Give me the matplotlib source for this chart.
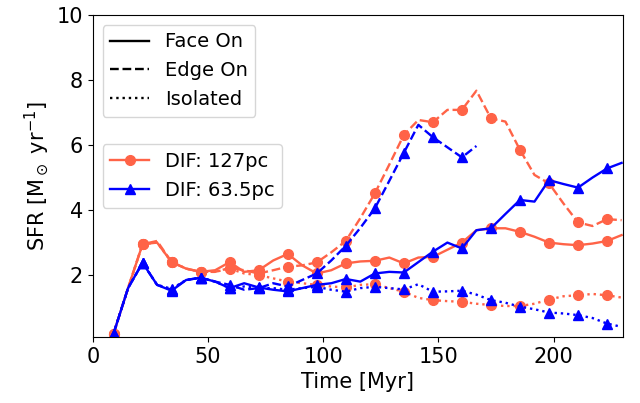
import matplotlib
matplotlib.use('Agg')
import matplotlib.pyplot as plt
from matplotlib.lines import Line2D

# snapshot times [Myr]
time = [9.0, 15.3, 21.6, 27.9, 34.2, 40.5, 46.8, 53.1, 59.4, 65.7,
        72.0, 78.3, 84.6, 90.9, 97.2, 103.5, 109.8, 116.1, 122.4, 128.7,
        135.0, 141.3, 147.6, 153.9, 160.2, 166.5, 172.8, 179.1, 185.4, 191.7,
        198.0, 204.3, 210.6, 216.9, 223.2, 229.5]

# DIF: 127pc
sfr127_face = [0.2, 1.6, 2.95, 3.0, 2.4, 2.2, 2.1, 2.15, 2.4, 2.1,
               2.15, 2.45, 2.65, 2.3, 2.05, 2.15, 2.36, 2.42, 2.44, 2.54,
               2.36, 2.54, 2.56, 2.78, 3.0, 3.38, 3.44, 3.44, 3.33, 3.18,
               3.0, 2.95, 2.92, 2.97, 3.05, 3.23]
sfr127_edge = [0.2, 1.6, 2.95, 3.05, 2.4, 2.2, 2.1, 2.1, 2.22, 2.15,
               2.05, 2.15, 2.26, 2.3, 2.39, 2.7, 3.05, 3.75, 4.51, 5.4,
               6.31, 6.77, 6.70, 7.08, 7.08, 7.67, 6.82, 6.72, 5.85, 5.08,
               4.82, 4.2, 3.62, 3.51, 3.72, 3.69]
sfr127_iso = [0.2, 1.6, 2.95, 3.0, 2.4, 2.2, 2.1, 2.1, 2.2, 2.05,
              2.0, 1.9, 1.8, 1.75, 1.7, 1.65, 1.62, 1.7, 1.72, 1.6,
              1.49, 1.3, 1.23, 1.2, 1.18, 1.12, 1.08, 1.05, 1.05, 1.12,
              1.25, 1.35, 1.38, 1.42, 1.38, 1.31]

# DIF: 63.5pc
sfr63_face = [0.2, 1.6, 2.38, 1.7, 1.52, 1.85, 1.92, 1.8, 1.6, 1.75,
              1.62, 1.55, 1.5, 1.6, 1.7, 1.75, 1.88, 1.8, 2.05, 2.1,
              2.08, 2.4, 2.72, 3.0, 2.82, 3.38, 3.44, 3.88, 4.31, 4.26,
              4.92, 4.8, 4.69, 5.0, 5.28, 5.45]
sfr63_edge = [0.2, 1.6, 2.38, 1.7, 1.55, 1.85, 1.92, 1.8, 1.7, 1.55,
              1.6, 1.75, 1.65, 1.85, 2.05, 2.45, 2.9, 3.45, 4.05, 4.9,
              5.76, 6.62, 6.24, 5.93, 5.62, 5.97]
sfr63_iso = [0.2, 1.6, 2.38, 1.7, 1.58, 1.85, 1.92, 1.8, 1.6, 1.65,
             1.6, 1.6, 1.55, 1.6, 1.64, 1.55, 1.49, 1.6, 1.64, 1.6,
             1.56, 1.72, 1.49, 1.5, 1.52, 1.4, 1.23, 1.15, 1.03, 0.95,
             0.85, 0.82, 0.77, 0.68, 0.51, 0.41]

red = 'tomato'
blue = 'blue'
lw = 1.7
ms = 7

fig = plt.figure(figsize=(6.4, 4.03), dpi=100)
ax = fig.add_axes([0.145, 0.164, 0.828, 0.799])

for y, ls in [(sfr127_face, '-'), (sfr127_edge, '--'), (sfr127_iso, ':')]:
    ax.plot(time[:len(y)], y, color=red, ls=ls, marker='o', ms=ms, markevery=2, lw=lw)
for y, ls in [(sfr63_face, '-'), (sfr63_edge, '--'), (sfr63_iso, ':')]:
    ax.plot(time[:len(y)], y, color=blue, ls=ls, marker='^', ms=ms, markevery=2, lw=lw)

ax.set_xlim(0, 230)
ax.set_ylim(0.1, 10)
ax.set_xlabel('Time [Myr]', fontsize=15)
ax.set_ylabel(r'SFR [M$_\odot$ yr$^{-1}$]', fontsize=15)
ax.tick_params(labelsize=15)

style_handles = [Line2D([], [], color='k', ls='-', lw=lw),
                 Line2D([], [], color='k', ls='--', lw=lw),
                 Line2D([], [], color='k', ls=':', lw=lw)]
leg1 = ax.legend(style_handles, ['Face On', 'Edge On', 'Isolated'],
                 loc='upper left', fontsize=14)
ax.add_artist(leg1)

dif_handles = [Line2D([], [], color=red, ls='-', marker='o', ms=ms, lw=lw),
               Line2D([], [], color=blue, ls='-', marker='^', ms=ms, lw=lw)]
ax.legend(dif_handles, ['DIF: 127pc', 'DIF: 63.5pc'], loc='center left', fontsize=14)

fig.savefig('out.png', dpi=100)
